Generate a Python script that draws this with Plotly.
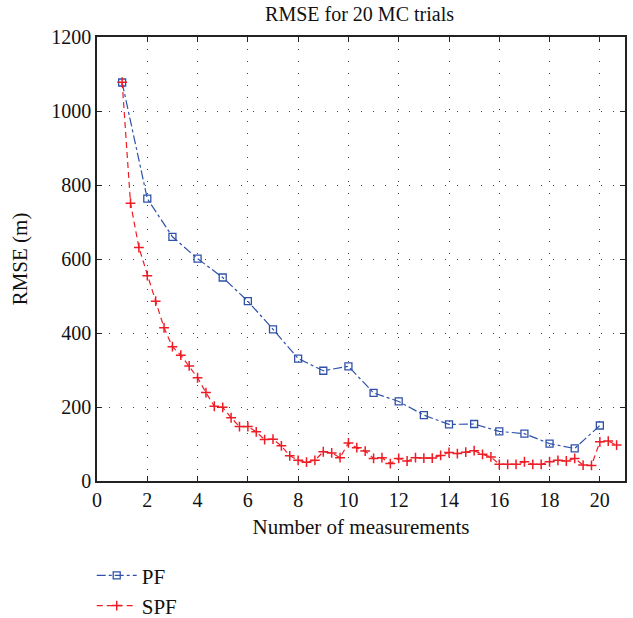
import plotly.graph_objects as go

pf_x = list(range(1, 21))
pf_y = [1077, 763, 660, 601, 550, 486, 410, 331, 298, 310, 238, 215, 178, 153, 154, 134, 128, 101, 88, 150]

spf_x = [1 + i / 3 for i in range(60)]
spf_y = [1078, 751, 631, 555, 486, 414, 363, 340, 311, 279,
         239, 202, 199, 171, 147, 147, 133, 112, 113, 95,
         68, 56, 51, 56, 79, 76, 63, 103, 90, 81,
         61, 63, 47, 61, 54, 63, 62, 62, 69, 77,
         74, 78, 82, 72, 65, 45, 45, 45, 52, 45,
         45, 52, 56, 54, 61, 43, 42, 106, 108, 97]

x_ticks = list(range(0, 22, 2))
y_ticks = list(range(0, 1400, 200))

font = "Liberation Serif, Times New Roman, serif"

fig = go.Figure()
fig.add_trace(go.Scatter(
    x=pf_x, y=pf_y, name="PF", mode="lines+markers",
    line=dict(color="#2f52a8", width=1.2, dash="dashdot"),
    marker=dict(symbol="square-open", size=7, color="#2f52a8", line=dict(width=1.3)),
))
fig.add_trace(go.Scatter(
    x=spf_x, y=spf_y, name="SPF", mode="lines+markers",
    line=dict(color="#ee1c25", width=1.2, dash="6px,4px"),
    marker=dict(symbol="cross-thin-open", size=7, color="#ee1c25", line=dict(width=1.5, color="#ee1c25")),
))

axis_common = dict(
    showline=True, linecolor="#222", linewidth=1.5, mirror="ticks",
    ticks="inside", ticklen=5, tickcolor="#222", tickwidth=1,
    showgrid=True, gridcolor="#444", gridwidth=1, griddash="1px,11px",
    zeroline=False, tickfont=dict(family=font, size=20, color="#111"),
)

fig.update_layout(
    width=633, height=618,
    margin=dict(l=97, r=8, t=37, b=137, autoexpand=False),
    paper_bgcolor="white", plot_bgcolor="white",
    title=dict(text="RMSE for 20 MC trials", x=0.568, xanchor="center", y=0.977, yanchor="middle",
               font=dict(family=font, size=20, color="#111")),
    font=dict(family=font, size=20, color="#111"),
    xaxis=dict(range=[0, 21], tickvals=x_ticks,
               title=dict(text="Number of measurements", font=dict(family=font, size=21), standoff=10),
               **axis_common),
    yaxis=dict(range=[0, 1200], tickvals=y_ticks,
               title=dict(text="RMSE (m)", font=dict(family=font, size=21), standoff=18),
               **axis_common),
    legend=dict(x=-0.01, y=-0.167, xanchor="left", yanchor="top",
                font=dict(family=font, size=21, color="#111"), tracegroupgap=0,
                itemwidth=40, bgcolor="rgba(0,0,0,0)"),
    showlegend=True,
)

fig.write_html("out.html")
